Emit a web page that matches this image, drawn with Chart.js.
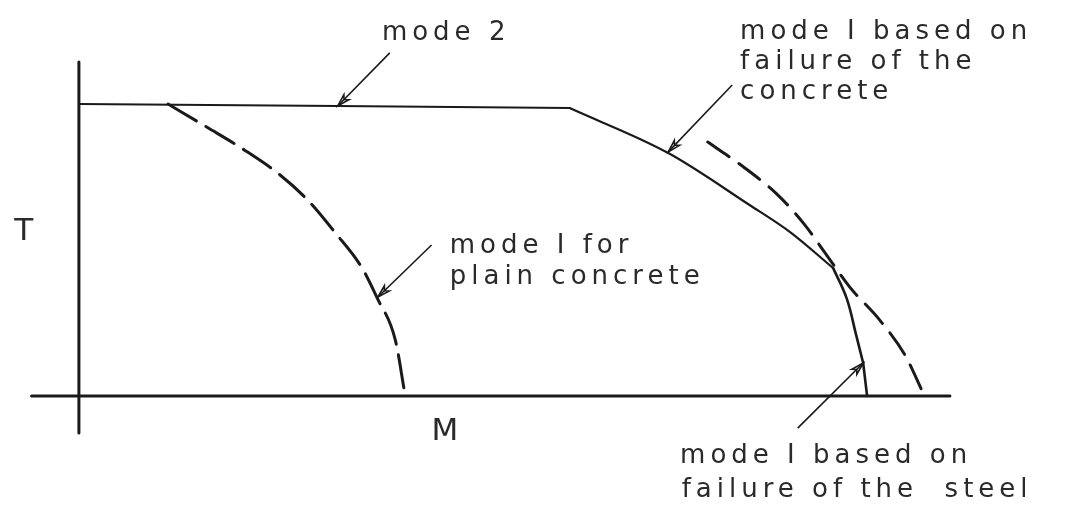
<!DOCTYPE html>
<html>
<head>
<meta charset="utf-8">
<script src="https://cdn.jsdelivr.net/npm/chart.js"></script>
<style>
  body{margin:0;background:#fff;}
</style>
</head>
<body>
<canvas id="interactionChart" width="1071" height="515"></canvas>
<script>
// M (moment) and T (torsion), normalised: T=1 on the mode 2 line, M=1 where the steel curve meets the axis
var mode2_M = [0, 0.328, 0.622];
var mode2_T = [1.0, 0.993, 0.986];

var concrete_M = [0.622, 0.747, 0.850, 0.901, 0.956];
var concrete_T = [0.986, 0.832, 0.654, 0.562, 0.438];

var steel_M = [0.956, 0.973, 0.985, 0.994];
var steel_T = [0.438, 0.335, 0.210, 0.113];
// last short straight bit of the steel curve down to the M axis
var steelEnd_M = [0.994, 0.999];
var steelEnd_T = [0.113, 0];

var plain_M = [0.113, 0.162, 0.210, 0.255, 0.290, 0.324, 0.359, 0.378, 0.401, 0.413];
var plain_T = [1.0, 0.921, 0.842, 0.757, 0.671, 0.562, 0.438, 0.336, 0.192, 0.01];

var outer_M = [0.797, 0.844, 0.886, 0.920, 0.945, 0.977, 1.015, 1.047, 1.070];
var outer_T = [0.870, 0.781, 0.688, 0.586, 0.493, 0.373, 0.260, 0.140, 0.010];

var axisM_M = [-0.060, 1.104];
var axisM_T = [0, 0];
var axisT_M = [0, 0];
var axisT_T = [-0.127, 1.144];

// label texts and their anchors (left, baseline) in M/T units
var labelText = ['mode 2', 'mode I based on', 'failure of the', 'concrete',
                 'mode I for', 'plain concrete', 'mode I based on', 'failure of the  steel'];
var label_M = [0.384, 0.838, 0.838, 0.838, 0.470, 0.470, 0.762, 0.764];
var label_T = [1.219, 1.223, 1.120, 1.017, 0.490, 0.384, -0.229, -0.346];

var axisTitles = ['T', 'M'];
var axisTitle_M = [-0.082, 0.447];
var axisTitle_T = [0.534, -0.151];

// arrows: tail -> tip
var arrowFrom_M = [0.394, 0.828, 0.447, 0.911];
var arrowFrom_T = [1.175, 1.065, 0.517, -0.110];
var arrowTo_M = [0.328, 0.747, 0.379, 0.994];
var arrowTo_T = [0.993, 0.836, 0.339, 0.113];

function pts(xs, ys){
  var out=[];
  for(var i=0;i<xs.length;i++){ out.push({x:xs[i], y:ys[i]}); }
  return out;
}

var ink = '#1a1a1a';

var notes = {
  id:'notes',
  afterDatasetsDraw:function(chart){
    var ctx=chart.ctx, sx=chart.scales.x, sy=chart.scales.y;
    ctx.save();
    // arrows
    ctx.strokeStyle=ink; ctx.fillStyle=ink; ctx.lineWidth=1.6;
    for(var i=0;i<arrowFrom_M.length;i++){
      var x0=sx.getPixelForValue(arrowFrom_M[i]), y0=sy.getPixelForValue(arrowFrom_T[i]);
      var x1=sx.getPixelForValue(arrowTo_M[i]), y1=sy.getPixelForValue(arrowTo_T[i]);
      ctx.beginPath(); ctx.moveTo(x0,y0); ctx.lineTo(x1,y1); ctx.stroke();
      var a=Math.atan2(y1-y0,x1-x0), len=13, w=0.28;
      ctx.beginPath();
      ctx.moveTo(x1,y1);
      ctx.lineTo(x1-len*Math.cos(a-w), y1-len*Math.sin(a-w));
      ctx.lineTo(x1-len*0.7*Math.cos(a), y1-len*0.7*Math.sin(a));
      ctx.lineTo(x1-len*Math.cos(a+w), y1-len*Math.sin(a+w));
      ctx.closePath(); ctx.stroke();
    }
    // labels
    ctx.fillStyle='#2a2a2a';
    ctx.font='26px "DejaVu Sans"';
    ctx.letterSpacing='5px';
    ctx.textAlign='left'; ctx.textBaseline='alphabetic';
    for(var j=0;j<labelText.length;j++){
      ctx.fillText(labelText[j], sx.getPixelForValue(label_M[j]), sy.getPixelForValue(label_T[j]));
    }
    ctx.letterSpacing='0px';
    ctx.font='31px "DejaVu Sans"';
    for(var k=0;k<axisTitles.length;k++){
      ctx.fillText(axisTitles[k], sx.getPixelForValue(axisTitle_M[k]), sy.getPixelForValue(axisTitle_T[k]));
    }
    ctx.restore();
  }
};

function line(data, width, dash){
  return {
    data:data, showLine:true, borderColor:ink, borderWidth:width,
    borderDash:dash||[], pointRadius:0, cubicInterpolationMode:'monotone',
    clip:false, fill:false, borderCapStyle:'round'
  };
}

var mode2Set = line(pts(mode2_M, mode2_T), 2);
mode2Set.cubicInterpolationMode = 'default';
mode2Set.tension = 0;

var steelSet = line(pts(steel_M, steel_T), 2.6);
steelSet.cubicInterpolationMode = 'default';
steelSet.tension = 0.4;

var steelEndSet = line(pts(steelEnd_M, steelEnd_T), 2.6);
steelEndSet.cubicInterpolationMode = 'default';
steelEndSet.tension = 0;

new Chart(document.getElementById('interactionChart'), {
  type:'scatter',
  data:{
    datasets:[
      line(pts(axisM_M, axisM_T), 3),
      line(pts(axisT_M, axisT_T), 3),
      mode2Set,
      line(pts(concrete_M, concrete_T), 2.2),
      steelSet,
      steelEndSet,
      line(pts(plain_M, plain_T), 3, [33, 11]),
      line(pts(outer_M, outer_T), 3, [26, 12])
    ]
  },
  options:{
    responsive:false,
    animation:false,
    devicePixelRatio:1,
    // M from -0.1 to 1.2 over 0..1025.7 px, T from 0 to 1 over 396..104 px
    layout:{padding:{left:0, right:45.3, top:104, bottom:119}},
    plugins:{legend:{display:false}, tooltip:{enabled:false}},
    scales:{
      x:{type:'linear', min:-0.1, max:1.2, display:false},
      y:{type:'linear', min:0, max:1, display:false}
    }
  },
  plugins:[notes]
});
</script>
</body>
</html>
